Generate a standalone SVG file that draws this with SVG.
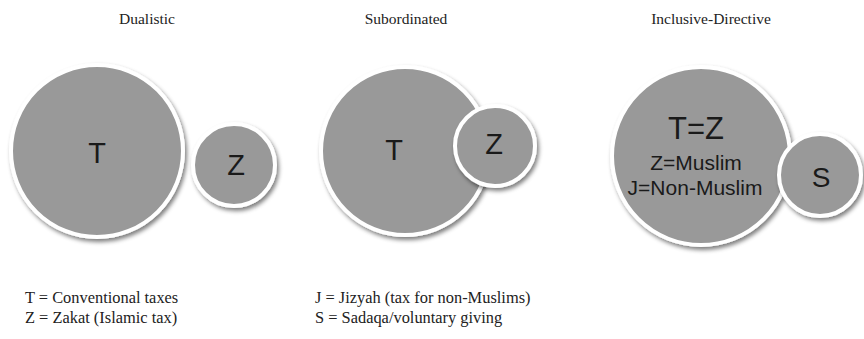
<svg xmlns="http://www.w3.org/2000/svg" width="864" height="339" viewBox="0 0 864 339">
<style>
.title{font-family:"Liberation Serif",serif;font-size:15.5px;fill:#222;text-anchor:middle}
.legend{font-family:"Liberation Serif",serif;font-size:16.4px;fill:#222}
.circ{fill:#999999;stroke:#ffffff;stroke-width:4;filter:url(#sh)}
.lbl{font-family:"Liberation Sans",Arial,sans-serif;fill:#1a1a1a;text-anchor:middle}
</style>
<defs>
<filter id="sh" x="-20%" y="-20%" width="150%" height="150%">
<feGaussianBlur in="SourceAlpha" stdDeviation="2"/>
<feOffset dx="2" dy="3" result="b"/>
<feFlood flood-color="#000" flood-opacity="0.5"/>
<feComposite in2="b" operator="in"/>
<feMerge><feMergeNode/><feMergeNode in="SourceGraphic"/></feMerge>
</filter>
</defs>
<rect width="864" height="339" fill="#ffffff"/>
<text class="title" x="147" y="24">Dualistic</text>
<text class="title" x="406" y="24">Subordinated</text>
<text class="title" x="711" y="24">Inclusive-Directive</text>
<g id="dualistic-T"><circle class="circ" cx="97" cy="151" r="86"/><text class="lbl" x="97" y="163" font-size="29">T</text></g>
<g id="dualistic-Z"><circle class="circ" cx="234" cy="165" r="41"/><text class="lbl" x="236" y="175" font-size="29">Z</text></g>
<g id="subordinated-T"><circle class="circ" cx="405" cy="151" r="84"/><text class="lbl" x="394" y="160" font-size="29">T</text></g>
<g id="subordinated-Z"><circle class="circ" cx="495" cy="146" r="40"/><text class="lbl" x="494" y="154" font-size="29">Z</text></g>
<g id="inclusive-T"><circle class="circ" cx="701" cy="156" r="89"/>
<text class="lbl" x="696" y="139" font-size="31">T=Z</text>
<text class="lbl" x="696" y="170" font-size="21">Z=Muslim</text>
<text class="lbl" x="695" y="195" font-size="21">J=Non-Muslim</text></g>
<g id="inclusive-S"><circle class="circ" cx="820" cy="175" r="41"/><text class="lbl" x="821" y="187" font-size="28">S</text></g>
<g id="connectors"></g>
<text class="legend" x="25" y="303">T = Conventional taxes</text>
<text class="legend" x="25" y="323">Z = Zakat (Islamic tax)</text>
<text class="legend" x="315" y="303">J = Jizyah (tax for non-Muslims)</text>
<text class="legend" x="315" y="323">S = Sadaqa/voluntary giving</text>
</svg>
